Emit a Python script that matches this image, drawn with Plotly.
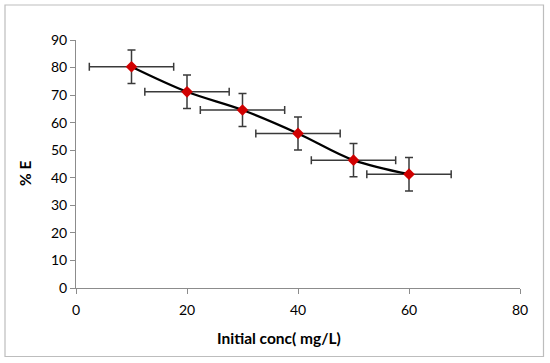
import plotly.graph_objects as go

conc = [10, 20, 30, 40, 50, 60]
pct_e = [80.3, 71.2, 64.6, 56.1, 46.4, 41.3]
err_y = [6.1, 6.1, 6.0, 6.0, 6.0, 6.1]
err_x = [7.6, 7.6, 7.6, 7.6, 7.6, 7.6]
x_ticks = [0, 20, 40, 60, 80]
y_ticks = [0, 10, 20, 30, 40, 50, 60, 70, 80, 90]

W, H = 550, 363
L, R, T, B = 76, 30, 40, 75
pw, ph = W - L - R, H - T - B

fig = go.Figure()
fig.add_trace(go.Scatter(
    x=conc, y=pct_e, mode="lines+markers",
    line=dict(color="black", width=2.2, shape="spline", smoothing=1.0),
    marker=dict(symbol="diamond", color="#D00000", size=9, line=dict(width=0)),
    error_y=dict(type="data", array=err_y, visible=True, color="#3a3a3a", thickness=1.5, width=4),
    error_x=dict(type="data", array=err_x, visible=True, color="#3a3a3a", thickness=1.5, width=4),
    showlegend=False,
))

font = "Lato, Calibri, 'Open Sans', sans-serif"
axis_common = dict(showgrid=False, zeroline=False, showline=True, linecolor="#8c8c8c", linewidth=1,
                   ticks="outside", ticklen=5, tickcolor="#8c8c8c",
                   tickfont=dict(family=font, size=14, color="black"))
fig.update_xaxes(range=[0, 80], tickvals=x_ticks, ticklabelstandoff=4, **axis_common)
fig.update_yaxes(range=[0, 90], tickvals=y_ticks, **axis_common)

def px_x(px):
    return (px - L) / pw

def px_y(py):
    return (H - B - py) / ph

fig.add_shape(type="rect", xref="paper", yref="paper",
              x0=px_x(5), x1=px_x(543.5), y0=px_y(356.5), y1=px_y(5),
              line=dict(color="#bdbdbd", width=1.2), fillcolor="rgba(0,0,0,0)", layer="below")

fig.add_annotation(text="<b>Initial conc( mg/L)</b>", xref="paper", yref="paper",
                   x=px_x(279), y=px_y(338), showarrow=False,
                   font=dict(family=font, size=15.5, color="black"), xanchor="center", yanchor="middle")
fig.add_annotation(text="<b>% E</b>", xref="paper", yref="paper",
                   x=px_x(25), y=px_y(174), showarrow=False, textangle=-90,
                   font=dict(family=font, size=15.5, color="black"), xanchor="center", yanchor="middle")

fig.update_layout(width=W, height=H, margin=dict(l=L, r=R, t=T, b=B),
                  paper_bgcolor="white", plot_bgcolor="white", hovermode=False)
fig.write_html("out.html", config={"displayModeBar": False, "staticPlot": True},
               post_script="document.body.style.margin='0';document.body.style.overflow='hidden';")
